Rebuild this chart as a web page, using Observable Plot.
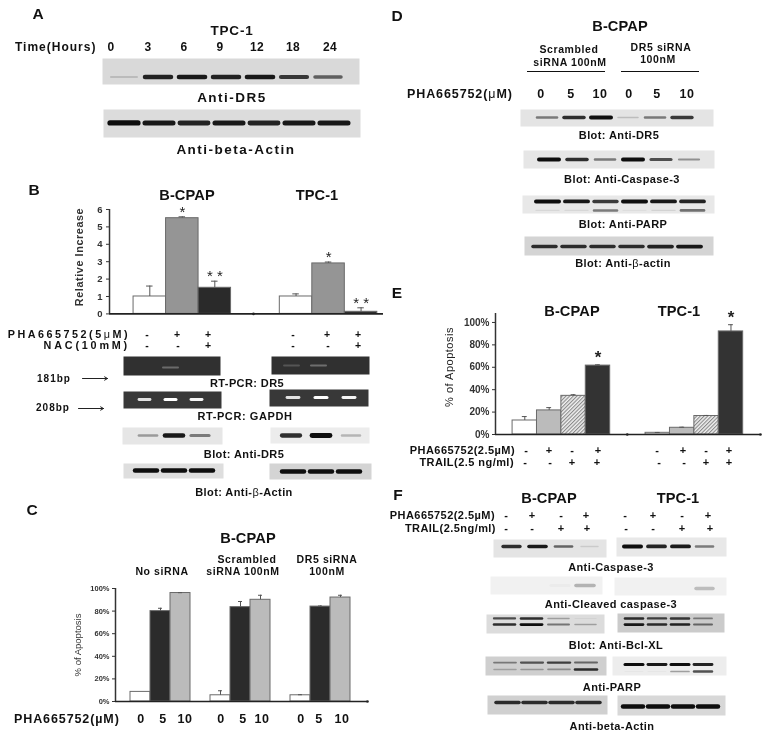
<!DOCTYPE html>
<html><head><meta charset="utf-8">
<script src="https://cdn.jsdelivr.net/npm/d3@7"></script>
<script src="https://cdn.jsdelivr.net/npm/@observablehq/plot@0.6"></script>
<style>
html,body{margin:0;padding:0;background:#fff}
#fig{position:relative;width:767px;height:737px;overflow:hidden;background:#fff;filter:blur(.5px);font-family:"Liberation Sans",Arial,sans-serif;color:#111}
#fig svg{position:absolute;overflow:visible;background:transparent}
.lab{position:absolute;white-space:nowrap;line-height:1;font-weight:bold}
.lab .thin{font-weight:normal}
.soft{filter:blur(.6px)}
</style></head><body>
<svg width="0" height="0" style="position:absolute"><defs>
<pattern id="hatch" width="2.6" height="2.6" patternUnits="userSpaceOnUse" patternTransform="rotate(45)">
<rect width="2.6" height="2.6" fill="#f0f0f0"/><rect width="1.1" height="2.6" fill="#8a8a8a"/></pattern>
</defs></svg>
<div id="fig"></div>
<script>
// ---------- DATA ----------
const hours = ["0","3","6","9","12","18","24"];
const aDR5 = [.15,.9,.95,.9,.95,.8,.6];
const aActin = [1,.95,.9,.95,.9,.95,.95];

const bSeries = ["control","PHA","PHA+NAC","control","PHA","PHA+NAC"];
const bSlots = [0,1,2,4.5,5.5,6.5];
const bValues = [1,5.5,1.5,1,2.9,.12];
const bErrors = [.6,.08,.38,.15,.08,.23];
const bStars = ["","*","* *","","*","* *"];
const threeLanes = ["-","PHA","PHA+NAC"];
const bPcrDR5L = [0,.28,0], bPcrDR5R = [.18,.3,0];
const bGapdhL = [.85,1,.95], bGapdhR = [.85,1,.95];
const bBlotDR5L = [.35,.95,.5], bBlotDR5R = [.85,1,.25];
const bActinL = [1,1,1], bActinR = [1,1,1];

const cSeries = ["0","5","10","0","5","10","0","5","10"];
const cSlots = [0,1,2,4,5,6,8,9,10];
const cValues = [8.5,80,96,5.5,83.5,90,5.5,84,92];
const cErrors = [0,2.5,.3,4,5,4,.5,.5,2];

const dLanes = ["s0","s5","s10","d0","d5","d10"];
const dDR5 = [.5,.85,1,.18,.5,.8];
const dCasp = [1,.85,.5,1,.7,.4];
const dParpTop = [1,.95,.8,1,.95,.9];
const dParpLow = [.08,.08,.5,.05,.1,.55];
const dActin = [.85,.85,.85,.85,.9,.95];

const eSeries = ["none","PHA","TRAIL","both","none","PHA","TRAIL","both"];
const eSlots = [0,1,2,3,5.45,6.45,7.45,8.45];
const eValues = [12.5,21.5,34.5,61.5,1.5,6,16.5,92];
const eErrors = [3.5,2.5,1,.7,.3,.5,.5,6];
const eStars = ["","","","*","","","","*"];

const fourLanes = ["none","PHA","TRAIL","both"];
const fCaspL = [.85,.95,.6,.12], fCaspR = [1,.9,.95,.5];
const fCleavedL = [0,0,.03,.3], fCleavedR = [0,0,0,.25];
const fBclTopL = [.7,.85,.3,.05], fBclLowL = [.85,1,.5,.3];
const fBclTopR = [.85,.75,.8,.45], fBclLowR = [.95,.85,.9,.55];
const fParpTopL = [.45,.65,.75,.55], fParpLowL = [.25,.3,.35,.85];
const fParpTopR = [1,.95,1,.9], fParpLowR = [.03,.03,.35,.7];
const fActinL = [.85,.85,.85,.85], fActinR = [1,1,1,1];

const signsPha = ["-","+","-","+"], signsTrail = ["-","-","+","+"];

// ---------- HELPERS ----------
const fig = document.getElementById("fig");
const base = {fontFamily:"Liberation Sans, Arial, sans-serif",overflow:"visible",background:"transparent"};
function place(svg,left,top){svg.style.left=left+"px";svg.style.top=top+"px";fig.appendChild(svg);return svg;}

function label(text,x,y,o={}){
  const s=document.createElement("div");s.className="lab";
  s.innerHTML=text.replace(/[μβ]/g,m=>`<span class="thin">${m}</span>`);
  const a=o.anchor||"middle";
  const tx=a==="middle"?"-50%":a==="end"?"-100%":"0";
  s.style.left=x+"px";s.style.top=y+"px";
  s.style.fontSize=(o.size||11)+"px";
  s.style.letterSpacing=(o.ls??.4)+"px";
  if(o.weight)s.style.fontWeight=o.weight;
  if(o.color)s.style.color=o.color;
  s.style.transform=(o.rotate?`translate(-50%,-50%) rotate(${o.rotate}deg)`:`translate(${tx},-50%)`);
  fig.appendChild(s);
}
const title=(t,x,y)=>label(t,x,y,{size:14.6,ls:.1});
const letter=(t,x,y)=>label(t,x,y,{size:15.5,ls:0});
function row(signs,xs,y,size=10.5){signs.forEach((s,i)=>label(s,xs[i],y,{size,ls:0}));}

// A blot: lanes on a band scale, bands as ticks at a migration position (0 top – 1 bottom).
function blot(box,c0,step,lanes,rows,o={}){
  const [x0,y0,x1,y1]=box,w=x1-x0,h=y1-y0,n=lanes.length;
  const thick=o.thick||[1.6,3.2];
  const capGap=(thick[0]+thick[1])/step;
  const data=rows.flatMap(r=>r.values.map((v,i)=>({lane:lanes[i],pos:r.pos,v})).filter(d=>d.v>0));
  const p=Plot.plot({
    width:w,height:h,margin:0,style:base,
    x:{type:"band",domain:lanes,range:[c0-step/2-x0,c0+step*(n-.5)-x0],padding:(o.padding??.14)+capGap,align:.5,axis:null},
    y:{domain:[1,0],range:[h,0],axis:null},
    color:{type:"linear",domain:[0,1],range:[o.bg||"#dedede",o.ink||"#0e0e0e"]},
    marks:[
      Plot.frame({fill:o.bg||"#dedede",stroke:null}),
      Plot.tickY(data,{x:"lane",y:"pos",stroke:"v",strokeWidth:d=>thick[0]+thick[1]*d.v,strokeLinecap:"round",className:"soft"})
    ]});
  place(p,x0,y0);
}

function chart(c){
  const ml=36,mr=2,mt=24,mb=4;
  const w=ml+mr+(c.x1-c.x0),h=mt+mb+(c.y0-c.yTop);
  const d=c.slots.map((s,i)=>({slot:s,series:c.series[i],value:c.values[i],err:c.errors[i],star:c.stars?c.stars[i]:""}));
  const p=Plot.plot({
    width:w,height:h,marginLeft:ml,marginRight:mr,marginTop:mt,marginBottom:mb,style:base,
    x:{domain:c.xDomain,axis:null},
    y:{domain:c.yDomain,axis:null},
    color:{domain:c.colorDomain,range:c.colorRange},
    marks:[
      Plot.rectY(d,{x1:"slot",x2:e=>e.slot+1,y1:0,y2:"value",fill:"series",stroke:"#6a6a6a",strokeWidth:1}),
      Plot.ruleX(d.filter(e=>e.err>0),{x:e=>e.slot+.5,y1:"value",y2:e=>e.value+e.err,stroke:"#555",strokeWidth:1}),
      Plot.ruleY(d.filter(e=>e.err>0),{y:e=>e.value+e.err,x1:e=>e.slot+.4,x2:e=>e.slot+.6,stroke:"#555",strokeWidth:1}),
      Plot.ruleX([c.xDomain[0]],{stroke:"#333",strokeWidth:1.5}),
      Plot.ruleY([0],{stroke:"#222",strokeWidth:1.6}),
      Plot.dot(c.axisMarks,{x:e=>e,y:0,r:1.3,fill:"#222"}),
      Plot.axisY({ticks:c.ticks,tickSize:c.tickSize||3,tickPadding:c.pad||3,tickFormat:c.format||(v=>String(v)),fontSize:c.tickFont,fontWeight:"bold",color:"#333",label:null}),
      Plot.text(d.filter(e=>e.star),{x:e=>e.slot+.5,y:e=>e.value+e.err,text:"star",dy:c.starDy||-5,fontSize:c.starSize||15,fill:"#222",fontWeight:c.starWeight||"normal",lineAnchor:"middle"})
    ]});
  place(p,c.x0-ml,c.yTop-mt);
}

function arrow(x0,x1,y){
  const p=Plot.plot({width:x1-x0,height:8,margin:0,style:base,x:{domain:[0,1],axis:null},y:{domain:[0,1],axis:null},
    marks:[Plot.arrow([{a:0,b:1,l:.5}],{x1:"a",x2:"b",y1:"l",y2:"l",stroke:"#222",strokeWidth:1,headLength:5,bend:0})]});
  place(p,x0,y-4);
}

// ---------- PANEL A ----------
letter("A",38,14);
label("TPC-1",232,31,{size:13.5,ls:.8});
label("Time(Hours)",15,47,{anchor:"start",size:12,ls:1});
hours.forEach((t,i)=>label(t,[111,148,184,220,257,293,330][i],47,{size:12,ls:.4}));
blot([102,58,359,84],120,35.3,hours,[{pos:.71,values:aDR5}],{bg:"#d9d9d9",padding:.1});
label("Anti-DR5",232,98,{size:13.5,ls:1.5});
blot([103,109,360,137],120,36.3,hours,[{pos:.48,values:aActin}],{bg:"#dcdcdc",thick:[2.4,2.8],padding:.05});
label("Anti-beta-Actin",236,150,{size:13.5,ls:1.5});

// ---------- PANEL B ----------
letter("B",34,190);
title("B-CPAP",187,195); title("TPC-1",317,195);
chart({x0:109,x1:383,y0:313,yTop:208.6,slots:bSlots,series:bSeries,values:bValues,errors:bErrors,stars:bStars,
  xDomain:[-.74,7.69],yDomain:[0,6],colorDomain:["control","PHA","PHA+NAC"],colorRange:["#fff","#959595","#2a2a2a"],
  axisMarks:[3.69],ticks:[0,1,2,3,4,5,6],tickFont:9.5,pad:4,starSize:15});
label("Relative Increase",79,257,{size:10.8,ls:.6,rotate:-90,color:"#333"});
label("PHA665752(5μM)",130,334,{anchor:"end",size:10.8,ls:2.5});
row(["-","+","+","-","+","+"],[147,177,208,293,327,358],334);
label("NAC(10mM)",130,345,{anchor:"end",size:10.8,ls:2.8});
row(["-","-","+","-","-","+"],[147,178,208,293,328,358],345);
const pcr={bg:"#303030",ink:"#fff",thick:[1.6,1.4],padding:.35};
const pcr2={bg:"#383838",ink:"#fff",thick:[1.6,1.4],padding:.5};
blot([123,356,220,375],139,31.5,threeLanes,[{pos:.58,values:bPcrDR5L}],pcr);
blot([271,356,369,374],287,32,threeLanes,[{pos:.5,values:bPcrDR5R}],pcr);
label("RT-PCR: DR5",247,383);
label("181bp",54,379,{size:10,ls:1}); arrow(82,107,378);
blot([123,391,221,408],139,31.5,threeLanes,[{pos:.47,values:bGapdhL}],pcr2);
blot([269,389,368,406],287,34,threeLanes,[{pos:.47,values:bGapdhR}],pcr2);
label("RT-PCR: GAPDH",245,416,{ls:.6});
label("208bp",53,408,{size:10,ls:1}); arrow(78,103,408);
blot([122,427,222,444],145,29,threeLanes,[{pos:.47,values:bBlotDR5L}],{bg:"#e6e6e6",padding:.16});
blot([270,427,369,443],287,34,threeLanes,[{pos:.5,values:bBlotDR5R}],{bg:"#ececec",padding:.25});
label("Blot: Anti-DR5",244,454);
blot([123,463,223,478],143,30.5,threeLanes,[{pos:.47,values:bActinL}],{bg:"#dedede",padding:.08,thick:[2,2.5]});
blot([269,463,371,479],290,31,threeLanes,[{pos:.5,values:bActinR}],{bg:"#d4d4d4",padding:.08,thick:[2,2.5]});
label("Blot: Anti-β-Actin",244,492);

// ---------- PANEL C ----------
letter("C",32,510);
title("B-CPAP",248,538);
label("No siRNA",162,571,{size:10.5,ls:.6});
label("Scrambled",247,559,{size:10.5,ls:.6});
label("siRNA 100nM",243,571,{size:10.5,ls:.6});
label("DR5 siRNA",327,559,{size:10.5,ls:.6});
label("100nM",327,571,{size:10.5,ls:.6});
chart({x0:115,x1:367,y0:701,yTop:588,slots:cSlots,series:cSeries,values:cValues,errors:cErrors,
  xDomain:[-.75,11.85],yDomain:[0,100],colorDomain:["0","5","10"],colorRange:["#fff","#2b2b2b","#bbb"],
  axisMarks:[11.85],ticks:[0,20,40,60,80,100],format:d=>d+"%",tickFont:7.5,pad:3});
label("% of Apoptosis",78,645,{size:9.5,ls:0,rotate:-90,weight:"normal",color:"#333"});
label("PHA665752(µM)",14,719,{anchor:"start",size:12.5,ls:.9});
["0","5","10","0","5","10","0","5","10"].forEach((t,i)=>label(t,[141,163,185,221,243,262,301,319,342][i],719,{size:12.5,ls:.5}));

// ---------- PANEL D ----------
letter("D",397,16);
title("B-CPAP",620,26);
label("Scrambled",569,49,{size:10.5,ls:.6});
label("siRNA 100nM",570,62,{size:10.5,ls:.6});
label("DR5 siRNA",661,47,{size:10.5,ls:.6});
label("100nM",658,59,{size:10.5,ls:.6});
const ruleBar=(a,b,y)=>place(Plot.plot({width:b-a,height:2,margin:0,style:base,x:{domain:[0,1],axis:null},y:{domain:[0,1],axis:null},
  marks:[Plot.ruleY([.5],{stroke:"#111",strokeWidth:1})]}),a,y-1);
ruleBar(527,605,71); ruleBar(621,699,71);
label("PHA665752(μM)",407,94,{anchor:"start",size:12.5,ls:.9});
["0","5","10","0","5","10"].forEach((t,i)=>label(t,[541,571,600,629,657,687][i],94,{size:12.5,ls:.5}));
blot([520,109,713,126],541,29.2,dLanes,[{pos:.47,values:dDR5}],{bg:"#e4e4e4",padding:.14,thick:[1,3]});
label("Blot: Anti-DR5",619,135);
blot([523,150,714,168],544,30,dLanes,[{pos:.5,values:dCasp}],{bg:"#e6e6e6",padding:.14,thick:[1,3]});
label("Blot: Anti-Caspase-3",622,179);
blot([522,195,714,213],544,30.3,dLanes,[{pos:.33,values:dParpTop},{pos:.83,values:dParpLow}],{bg:"#e8e8e8",padding:.06,thick:[1,3]});
label("Blot: Anti-PARP",623,224);
blot([524,236,713,255],541,30.2,dLanes,[{pos:.53,values:dActin}],{bg:"#d4d4d4",padding:.08,thick:[1,3]});
label("Blot: Anti-β-actin",623,263);

// ---------- PANEL E ----------
letter("E",397,293);
title("B-CPAP",572,311); title("TPC-1",679,311);
chart({x0:495,x1:760,y0:434,yTop:313,slots:eSlots,series:eSeries,values:eValues,errors:eErrors,stars:eStars,
  xDomain:[-.7,10.16],yDomain:[0,108],colorDomain:["none","PHA","TRAIL","both"],colorRange:["#fff","#bbb","url(#hatch)","#333"],
  axisMarks:[4.7,10.16],ticks:[0,20,40,60,80,100],format:d=>d+"%",tickFont:10,pad:3,starSize:17,starWeight:"bold",starDy:-7});
label("% of Apoptosis",449,367,{size:11,ls:.5,rotate:-90,weight:"normal",color:"#222"});
label("PHA665752(2.5µM)",515,450,{anchor:"end",size:11,ls:.45});
row([...signsPha,...signsPha],[526,549,572,598,657,683,706,729],450,11);
label("TRAIL(2.5 ng/ml)",514,462,{anchor:"end",size:11,ls:.45});
row([...signsTrail,...signsTrail],[525,550,572,597,659,684,706,729],462,11);

// ---------- PANEL F ----------
letter("F",398,495);
title("B-CPAP",549,498); title("TPC-1",678,498);
label("PHA665752(2.5µM)",495,515,{anchor:"end",size:11,ls:.45});
row([...signsPha,...signsPha],[506,532,561,586,625,653,682,708],515,11);
label("TRAIL(2.5ng/ml)",496,528,{anchor:"end",size:11,ls:.45});
row([...signsTrail,...signsTrail],[506,532,561,587,626,653,682,710],528,11);
blot([493,539,606,557],508,28.7,fourLanes,[{pos:.39,values:fCaspL}],{bg:"#e4e4e4",padding:.2,thick:[1,2.8]});
blot([616,537,726,556],629,26.5,fourLanes,[{pos:.47,values:fCaspR}],{bg:"#e8e8e8",padding:.16,thick:[1,3]});
label("Anti-Caspase-3",611,567);
blot([490,576,602,594],506,27.5,fourLanes,[{pos:.5,values:fCleavedL}],{bg:"#f1f1f1",padding:.1,thick:[3,2],ink:"#222"});
blot([614,577,726,595],629,26.5,fourLanes,[{pos:.61,values:fCleavedR}],{bg:"#f1f1f1",padding:.1,thick:[3,2],ink:"#222"});
label("Anti-Cleaved caspase-3",611,604);
blot([486,614,604,633],502,29,fourLanes,[{pos:.21,values:fBclTopL},{pos:.53,values:fBclLowL}],{bg:"#dcdcdc",padding:.12,thick:[1,1.8]});
blot([617,613,724,632],631,25,fourLanes,[{pos:.26,values:fBclTopR},{pos:.58,values:fBclLowR}],{bg:"#cbcbcb",padding:.1,thick:[1,1.8]});
label("Blot: Anti-Bcl-XL",616,645);
blot([485,656,606,675],502,29,fourLanes,[{pos:.32,values:fParpTopL},{pos:.68,values:fParpLowL}],{bg:"#cfcfcf",padding:.1,thick:[1,1.8]});
blot([612,656,726,675],631,25.3,fourLanes,[{pos:.42,values:fParpTopR},{pos:.79,values:fParpLowR}],{bg:"#ededed",padding:.1,thick:[1,2]});
label("Anti-PARP",612,687);
blot([487,695,607,714],504,29,fourLanes,[{pos:.37,values:fActinL}],{bg:"#d0d0d0",padding:.02,thick:[1,3]});
blot([617,695,725,715],630,27,fourLanes,[{pos:.55,values:fActinR}],{bg:"#d8d8d8",padding:.02,thick:[1,3.5]});
label("Anti-beta-Actin",612,726);
</script></body></html>
